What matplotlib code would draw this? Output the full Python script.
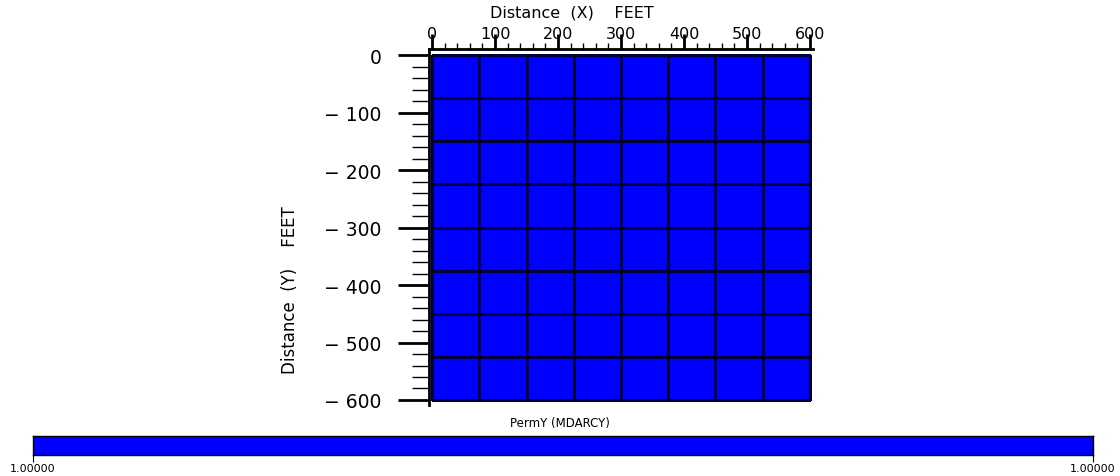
import numpy as np
import matplotlib
matplotlib.use("Agg")
import matplotlib.pyplot as plt
from matplotlib.colors import ListedColormap, Normalize

# ---- data ----
x_edges = [0, 75, 150, 225, 300, 375, 450, 525, 600]
y_edges = [0, -75, -150, -225, -300, -375, -450, -525, -600]
perm_y = [
    [1.0, 1.0, 1.0, 1.0, 1.0, 1.0, 1.0, 1.0],
    [1.0, 1.0, 1.0, 1.0, 1.0, 1.0, 1.0, 1.0],
    [1.0, 1.0, 1.0, 1.0, 1.0, 1.0, 1.0, 1.0],
    [1.0, 1.0, 1.0, 1.0, 1.0, 1.0, 1.0, 1.0],
    [1.0, 1.0, 1.0, 1.0, 1.0, 1.0, 1.0, 1.0],
    [1.0, 1.0, 1.0, 1.0, 1.0, 1.0, 1.0, 1.0],
    [1.0, 1.0, 1.0, 1.0, 1.0, 1.0, 1.0, 1.0],
    [1.0, 1.0, 1.0, 1.0, 1.0, 1.0, 1.0, 1.0],
]
x_ticks = [0, 100, 200, 300, 400, 500, 600]
y_ticks = [0, -100, -200, -300, -400, -500, -600]
cb_range = [1.0, 1.0]
x_label = "Distance  (X)    FEET"
y_label = "Distance  (Y)    FEET"
cb_label = "PermY (MDARCY)"

W, H = 1120, 477
fig = plt.figure(figsize=(W / 100, H / 100), dpi=100)

cmap = ListedColormap(["#0000FF"])
norm = Normalize(vmin=0.0, vmax=2.0)

# main axes (pixel geometry)
l, r, t, b = 429, 813, 50, 406
ax = fig.add_axes([l / W, 1 - b / H, (r - l) / W, (b - t) / H])
ax.pcolormesh(x_edges, y_edges, np.array(perm_y), cmap=cmap, norm=norm,
              edgecolor="#000038", linewidth=1.0)
ax.set_xlim(-4.8, 604.8)
ax.set_ylim(-608.7, 10.5)
ax.set_facecolor("white")

for s in ["bottom", "right"]:
    ax.spines[s].set_visible(False)
for s in ["top", "left"]:
    ax.spines[s].set_linewidth(2)
    ax.spines[s].set_color("black")

ax.xaxis.set_ticks_position("top")
ax.set_xticks(x_ticks)
ax.set_xticklabels([str(v) for v in x_ticks], fontsize=11.5)
ax.set_xticks(np.arange(0, 601, 20), minor=True)
ax.tick_params(axis="x", which="major", direction="out", length=11, width=2, pad=-5)
ax.tick_params(axis="x", which="minor", direction="out", length=4.5, width=1)

ax.set_yticks(y_ticks)
ax.set_yticklabels(["0" if v == 0 else "\u2212 " + str(-v) for v in y_ticks], fontsize=13.5)
ax.set_yticks(np.arange(-600, 1, 20), minor=True)
ax.tick_params(axis="y", which="major", direction="out", length=22, width=2, pad=12)
ax.tick_params(axis="y", which="minor", direction="out", length=12, width=1)

fig.text(572 / W, 1 - 13 / H, x_label, ha="center", va="center", fontsize=11.5)
fig.text(290 / W, 1 - 290 / H, y_label, ha="center", va="center", fontsize=12, rotation=90)

# colorbar
cl, cr, ct, cbm = 33, 1093, 437, 456
cax = fig.add_axes([cl / W, 1 - cbm / H, (cr - cl) / W, (cbm - ct) / H])
cax.pcolormesh([0, 1], [0, 1], [[cb_range[0]]], cmap=cmap, norm=norm)
cax.set_xlim(0, 1)
cax.set_ylim(0, 1)
cax.set_yticks([])
cax.set_xticks([0, 1])
cax.set_xticklabels([f"{cb_range[0]:.5f}", f"{cb_range[1]:.5f}"], fontsize=8)
cax.tick_params(axis="x", direction="out", length=5, width=0.8, pad=1)
for s in cax.spines.values():
    s.set_linewidth(1)
fig.text(560 / W, 1 - 424 / H, cb_label, ha="center", va="center", fontsize=8.5)

fig.savefig("out.png", dpi=100, facecolor="white")
